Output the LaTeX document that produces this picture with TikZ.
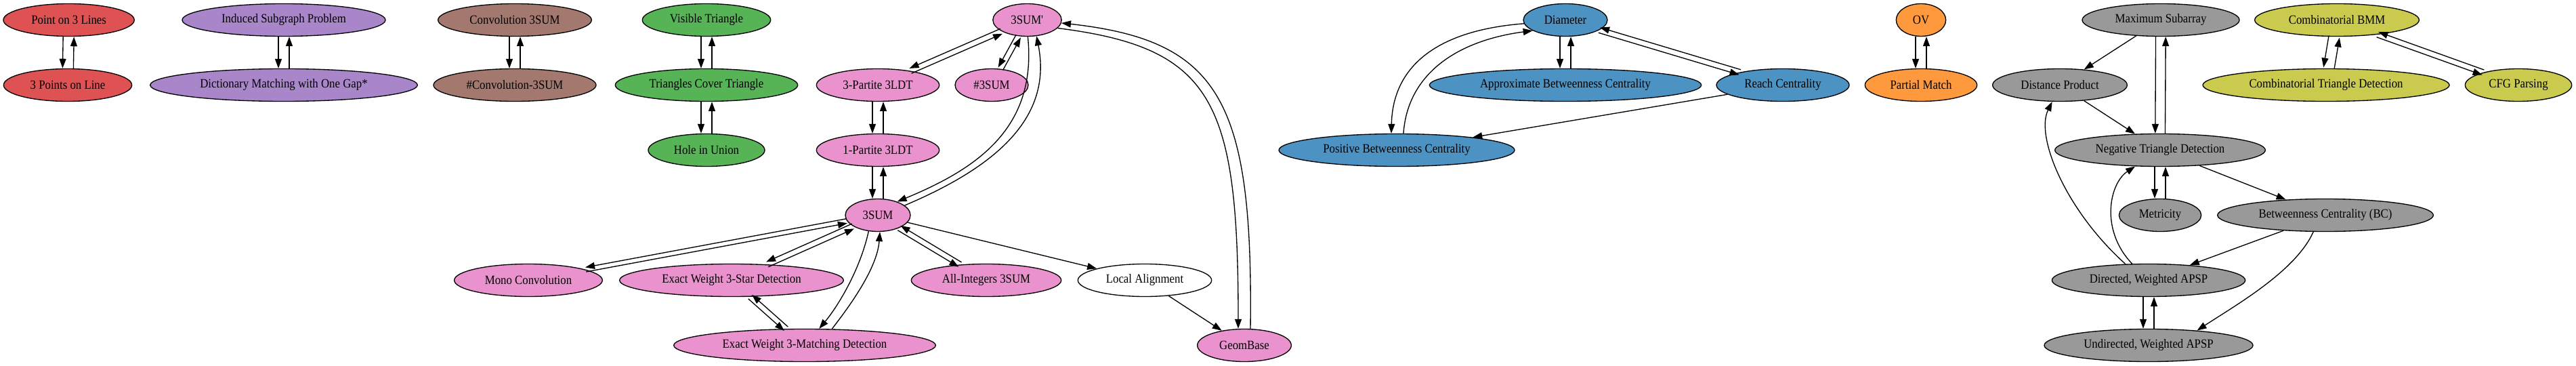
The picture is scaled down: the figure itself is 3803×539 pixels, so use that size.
\documentclass[tikz,border=0pt]{standalone}
\usepackage{fontspec}
\setmainfont[FakeStretch=0.9]{Liberation Serif}
\usetikzlibrary{shapes.geometric,arrows.meta,calc}

\definecolor{tabred}{RGB}{222,82,83}
\definecolor{tabpurple}{RGB}{169,133,202}
\definecolor{tabbrown}{RGB}{163,120,111}
\definecolor{tabgreen}{RGB}{86,179,86}
\definecolor{tabpink}{RGB}{233,146,206}
\definecolor{tabblue}{RGB}{76,146,195}
\definecolor{taborange}{RGB}{255,153,62}
\definecolor{tabgray}{RGB}{153,153,153}
\definecolor{tabolive}{RGB}{201,202,78}

\tikzset{
  prob/.style={ellipse, draw, line width=1pt, inner sep=1pt, minimum height=36pt,
    font=\fontsize{14pt}{16pt}\selectfont},
  redp/.style={prob, fill=tabred},
  purp/.style={prob, fill=tabpurple},
  brnp/.style={prob, fill=tabbrown},
  grnp/.style={prob, fill=tabgreen},
  pnkp/.style={prob, fill=tabpink},
  blup/.style={prob, fill=tabblue},
  orgp/.style={prob, fill=taborange},
  gryp/.style={prob, fill=tabgray},
  olvp/.style={prob, fill=tabolive},
  whtp/.style={prob, fill=white},
  arr/.style={line width=1pt, -{Triangle[length=10.5pt,width=7.5pt]}}
}

% a reduction in both directions: two arrows side by side
\newcommand{\twoway}[3][3pt]{%
  \draw[arr, transform canvas={shift={($(#2)!#1!-90:(#3)-(#2)$)}}] (#2) -- (#3);
  \draw[arr, transform canvas={shift={($(#3)!#1!-90:(#2)-(#3)$)}}] (#3) -- (#2);
}

\begin{document}
\begin{tikzpicture}[x=0.75pt, y=0.75pt]
  \useasboundingbox (0,0) rectangle (3803,-539);

  \node[redp, minimum width=145pt] (p3l) at (101.6,-29.5) {Point on 3 Lines};
  \node[purp, minimum width=225pt] (isp) at (419,-29.5) {Induced Subgraph Problem};
  \node[brnp, minimum width=170pt] (conv) at (760,-29.5) {Convolution 3SUM};
  \node[grnp, minimum width=142pt] (vis) at (1043,-29.5) {Visible Triangle};
  \node[pnkp, minimum width=76pt] (tsump) at (1516.5,-29.5) {3SUM\textquotesingle};
  \node[blup, minimum width=93pt] (diam) at (2311,-29.5) {Diameter};
  \node[orgp, minimum width=55pt] (ov) at (2836,-29.5) {OV};
  \node[gryp, minimum width=174pt] (maxsub) at (3190,-29.5) {Maximum Subarray};
  \node[olvp, minimum width=182pt] (cbmm) at (3450,-29.5) {Combinatorial BMM};

  \node[redp, minimum width=142pt] (pol) at (100,-125.5) {3 Points on Line};
  \node[purp, minimum width=296pt] (dict) at (419,-125.5) {Dictionary Matching with One Gap*};
  \node[brnp, minimum width=180pt] (nconv) at (760,-125.5) {\#Convolution-3SUM};
  \node[grnp, minimum width=202pt] (tct) at (1043,-125.5) {Triangles Cover Triangle};
  \node[pnkp, minimum width=136pt] (p3) at (1296,-125.5) {3-Partite 3LDT};
  \node[pnkp, minimum width=81pt] (nsum) at (1464,-125.5) {\#3SUM};
  \node[blup, minimum width=301pt] (abc) at (2311,-125.5) {Approximate Betweenness Centrality};
  \node[blup, minimum width=147pt] (reach) at (2632,-125.5) {Reach Centrality};
  \node[orgp, minimum width=124pt] (pm) at (2836,-125.5) {Partial Match};
  \node[gryp, minimum width=149pt] (dp) at (3041,-125.5) {Distance Product};
  \node[olvp, minimum width=273pt] (ctd) at (3434,-125.5) {Combinatorial Triangle Detection};
  \node[olvp, minimum width=118pt] (cfg) at (3718,-125.5) {CFG Parsing};

  \node[grnp, minimum width=129pt] (hole) at (1043,-221.5) {Hole in Union};
  \node[pnkp, minimum width=136pt] (p1) at (1296,-221.5) {1-Partite 3LDT};
  \node[blup, minimum width=261pt] (pbc) at (2062,-221.5) {Positive Betweenness Centrality};
  \node[gryp, minimum width=233pt] (ntd) at (3189,-221.5) {Negative Triangle Detection};

  \node[pnkp, minimum width=72pt] (tsum) at (1296,-317.5) {3SUM};
  \node[gryp, minimum width=91pt] (metr) at (3189,-317.5) {Metricity};
  \node[gryp, minimum width=239pt] (bc) at (3433,-317.5) {Betweenness Centrality (BC)};

  \node[pnkp, minimum width=164pt] (mono) at (780,-413.5) {Mono Convolution};
  \node[pnkp, minimum width=248pt] (star) at (1080,-413.5) {Exact Weight 3-Star Detection};
  \node[pnkp, minimum width=166pt] (allint) at (1456,-413.5) {All-Integers 3SUM};
  \node[whtp, minimum width=148pt] (local) at (1690,-413.5) {Local Alignment};
  \node[gryp, minimum width=214pt] (dapsp) at (3172,-413.5) {Directed, Weighted APSP};

  \node[pnkp, minimum width=290pt] (match) at (1188,-509.5) {Exact Weight 3-Matching Detection};
  \node[pnkp, minimum width=104pt] (geom) at (1837,-509.5) {GeomBase};
  \node[gryp, minimum width=231pt] (uapsp) at (3172,-509.5) {Undirected, Weighted APSP};

  \twoway[6pt]{p3l}{pol}
  \twoway[6pt]{isp}{dict}
  \twoway[6pt]{conv}{nconv}
  \twoway[6pt]{vis}{tct}
  \twoway[6pt]{tct}{hole}

  \twoway{tsump}{p3}
  \twoway{tsump}{nsum}
  \twoway[6pt]{p3}{p1}
  \twoway[6pt]{p1}{tsum}
  \twoway[2.5pt]{tsum}{mono}
  \twoway{tsum}{star}
  \twoway{tsum}{allint}
  \twoway{star}{match}
  \draw[arr] (tsump.-88) .. controls +(14,-136) and +(116,48) .. (tsum.35);
  \draw[arr] (tsum.20) .. controls +(125,53) and +(25,-126) .. (tsump.-60);
  \draw[arr] (tsum.-120) .. controls +(-13,-59) and +(26,31) .. (match.49);
  \draw[arr] (match.31) .. controls +(28,36) and +(-4,-53) .. (tsum.-83);
  \draw[arr] (tsump.-15) .. controls +(230,-29) and +(0,336) .. ([xshift=-6.75pt]geom.north);
  \draw[arr] ([xshift=6.75pt]geom.north) .. controls +(4,336) and +(234,-26) .. (tsump.-5);
  \draw[arr] (tsum) -- (local);
  \draw[arr] (local) -- (geom);

  \twoway[6pt]{diam}{abc}
  \twoway{diam}{reach}
  \draw[arr] (diam.185) .. controls +(-130,-10) and +(2,98) .. (pbc.108);
  \draw[arr] (pbc.68) .. controls +(6,87) and +(-113,-15) .. (diam.198);
  \draw[arr] (reach) -- (pbc);

  \twoway[6pt]{ov}{pm}

  \draw[arr] (maxsub) -- (dp);
  \twoway[5.5pt]{maxsub}{ntd}
  \draw[arr] (dp) -- (ntd);
  \twoway[6pt]{ntd}{metr}
  \draw[arr] (ntd) -- (bc);
  \draw[arr] (bc) -- (dapsp);
  \draw[arr] (bc.234) .. controls +(-26,-58) and +(58,38) .. (uapsp.17);
  \draw[arr] (dapsp.145) .. controls +(-89,80) and +(-25,-51) .. (dp.245);
  \draw[arr] (dapsp.135) .. controls +(-48,50) and +(-38,-25) .. (ntd.213);
  \twoway[6pt]{dapsp}{uapsp}

  \twoway[6pt]{cbmm}{ctd}
  \twoway{cbmm}{cfg}
\end{tikzpicture}
\end{document}
